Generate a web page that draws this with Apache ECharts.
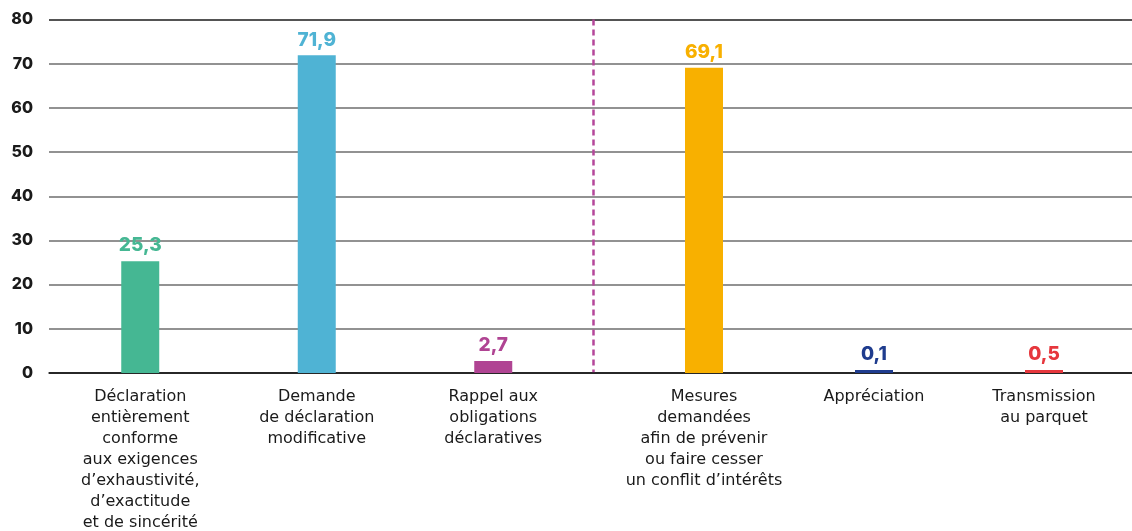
<!DOCTYPE html>
<html>
<head>
<meta charset="utf-8">
<script src="https://cdn.jsdelivr.net/npm/echarts@6/dist/echarts.min.js"></script>
<style>
  html, body { margin: 0; padding: 0; background: #fff; }
  #chart { width: 1132px; height: 531px; }
</style>
</head>
<body>
<div id="chart"></div>
<script>
// Suites données aux déclarations : deux groupes séparés par un trait pointillé
const categoriesLeft = [
  'Déclaration\nentièrement\nconforme\naux exigences\nd’exhaustivité,\nd’exactitude\net de sincérité',
  'Demande\nde déclaration\nmodificative',
  'Rappel aux\nobligations\ndéclaratives'
];
const valuesLeft = [25.3, 71.9, 2.7];
const colorsLeft = ['#45B793', '#4FB3D4', '#B04493'];

const categoriesRight = [
  'Mesures\ndemandées\nafin de prévenir\nou faire cesser\nun conflit d’intérêts',
  'Appréciation',
  'Transmission\nau parquet'
];
const valuesRight = [69.1, 0.1, 0.5];
const colorsRight = ['#F8B000', '#1F3C8E', '#E6373D'];

const yTicks = [0, 10, 20, 30, 40, 50, 60, 70, 80];

const FONT = 'Inter, "Noto Sans", sans-serif';
const LABEL_FONT = '"DejaVu Sans", sans-serif';
const TOP = 19.5, BOTTOM = 158;

function barSeries(values, colors, axisIndex) {
  return {
    type: 'bar',
    xAxisIndex: axisIndex,
    yAxisIndex: axisIndex,
    barWidth: 38,
    barMinHeight: 3,
    data: values.map((v, i) => ({ value: v, itemStyle: { color: colors[i] },
      label: { color: colors[i] } })),
    label: {
      show: true,
      position: 'top',
      distance: 6,
      fontFamily: FONT,
      fontWeight: 800,
      fontSize: 19,
      formatter: p => String(p.value).replace('.', ',')
    },
    silent: true
  };
}

function catAxis(gridIndex, cats) {
  return {
    type: 'category',
    gridIndex: gridIndex,
    data: cats,
    axisLine: { show: false },
    axisTick: { show: false },
    axisLabel: {
      interval: 0,
      margin: 13,
      fontFamily: LABEL_FONT,
      fontSize: 16,
      lineHeight: 21,
      color: '#1a1a1a',
      verticalAlign: 'top'
    }
  };
}

function hiddenY(gridIndex) {
  return {
    type: 'value', gridIndex: gridIndex, min: 0, max: 80, interval: 10,
    axisLabel: { show: false }, splitLine: { show: false },
    axisLine: { show: false }, axisTick: { show: false }
  };
}

const gridColors = yTicks.map((t, i) => (i === 0 || i === yTicks.length - 1) ? '#1a1a1a' : '#6e6e6e');

const chart = echarts.init(document.getElementById('chart'), null, { renderer: 'canvas' });
chart.setOption({
  backgroundColor: '#fff',
  animation: false,
  grid: [
    { left: 49, right: 0, top: TOP, bottom: BOTTOM, outerBoundsMode: 'none', containLabel: false },
    { left: 52, width: 529.5, top: TOP, bottom: BOTTOM, outerBoundsMode: 'none', containLabel: false },
    { left: 619, width: 510, top: TOP, bottom: BOTTOM, outerBoundsMode: 'none', containLabel: false }
  ],
  xAxis: [
    { type: 'category', gridIndex: 0, data: [''],
      axisLine: { show: true, lineStyle: { color: '#1a1a1a', width: 1.5 } },
      axisTick: { show: false }, axisLabel: { show: false } },
    catAxis(1, categoriesLeft),
    catAxis(2, categoriesRight)
  ],
  yAxis: [
    { type: 'value', gridIndex: 0, min: 0, max: 80, interval: 10,
      axisLine: { show: false }, axisTick: { show: false },
      axisLabel: { margin: 16, fontFamily: FONT, fontWeight: 800, fontSize: 16, color: '#1a1a1a' },
      splitLine: { show: true, lineStyle: { color: gridColors, width: 1.5 } } },
    hiddenY(1),
    hiddenY(2)
  ],
  series: [
    barSeries(valuesLeft, colorsLeft, 1),
    barSeries(valuesRight, colorsRight, 2)
  ]
});

// Séparateur pointillé entre les deux groupes de mesures
const sepX = 593.5;
const yTop = chart.convertToPixel({ yAxisIndex: 0 }, 80);
const yBase = chart.convertToPixel({ yAxisIndex: 0 }, 0);
chart.setOption({
  graphic: [{
    type: 'line',
    silent: true,
    shape: { x1: sepX, y1: yTop, x2: sepX, y2: yBase },
    style: { stroke: '#B5479A', lineWidth: 2.5, lineDash: [6, 4] }
  }]
});
</script>
</body>
</html>
